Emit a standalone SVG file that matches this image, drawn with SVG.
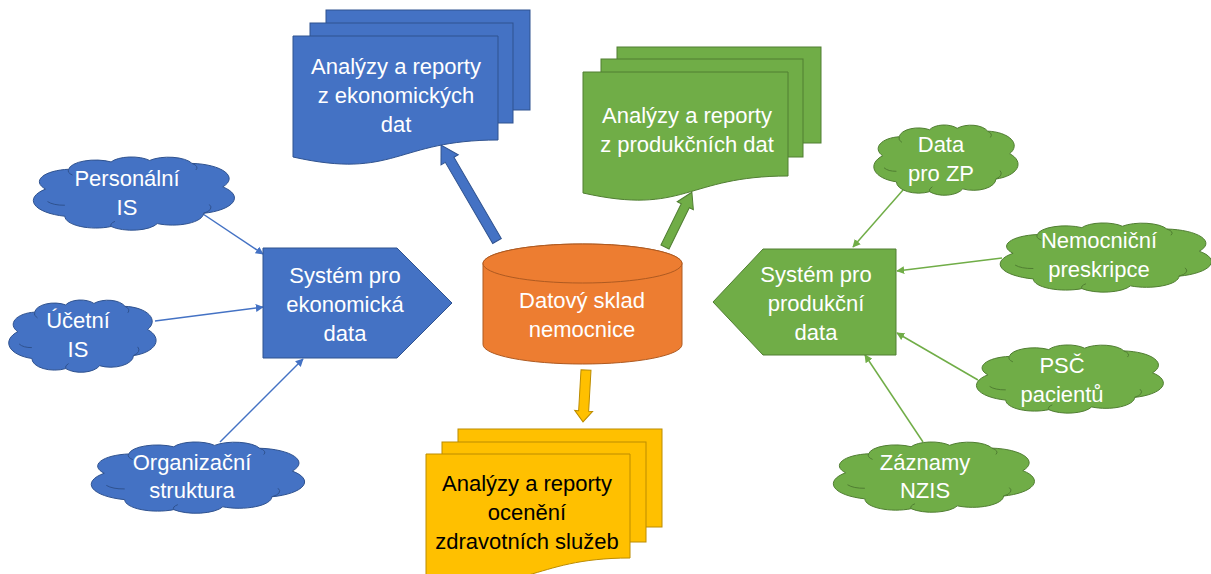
<svg xmlns="http://www.w3.org/2000/svg" xmlns:xlink="http://www.w3.org/1999/xlink" width="1211" height="574" viewBox="0 0 1211 574">
<style>
text{font-family:"Liberation Sans",Arial,sans-serif;font-size:22px;text-anchor:middle}
.w{fill:#ffffff}
.k{fill:#000000}
.blue{fill:#4472C4;stroke:#2F528F;stroke-width:1}
.green{fill:#70AD47;stroke:#507E32;stroke-width:1}
.yellow{fill:#FFC000;stroke:#BC8C00;stroke-width:1}
.orange{fill:#ED7D31;stroke:#AE5A21;stroke-width:1}
.cl{vector-effect:non-scaling-stroke}
.inner{fill:none;vector-effect:non-scaling-stroke}
.cb{stroke:#4472C4;stroke-width:1.5;fill:none;marker-end:url(#ab)}
.cg{stroke:#70AD47;stroke-width:1.5;fill:none;marker-end:url(#ag)}
</style>
<defs>
<marker id="ab" viewBox="0 0 10 10" refX="9" refY="5" markerWidth="8" markerHeight="8" markerUnits="userSpaceOnUse" orient="auto"><path d="M0,0 L10,5 L0,10 z" fill="#4472C4"/></marker>
<marker id="ag" viewBox="0 0 10 10" refX="9" refY="5" markerWidth="8" markerHeight="8" markerUnits="userSpaceOnUse" orient="auto"><path d="M0,0 L10,5 L0,10 z" fill="#70AD47"/></marker>
<path id="cloud" class="cl" d="M4,45 A17.1,17.1 0 0 1 16,18 A14,14 0 0 1 38,8 A11.7,11.7 0 0 1 58,6 A13,13 0 0 1 80,10 A20.8,20.8 0 0 1 96,42 A21.7,21.7 0 0 1 86,78 A16.1,16.1 0 0 1 62,92 A14.1,14.1 0 0 1 38,96 A16.1,16.1 0 0 1 14,82 A22.2,22.2 0 0 1 4,45 Z"/>
<path id="cloudIn" class="inner" d="M5,62 A10,10 0 0 0 14,67 M86,78 A10,10 0 0 0 89,66 M80,10 A8,8 0 0 1 82,19 M38,96 A8,8 0 0 1 40,89 M16,18 A9,9 0 0 0 18,26"/>
</defs>

<g id="connectors">
<line class="cb" x1="203" y1="214" x2="263" y2="254"/>
<line class="cb" x1="155" y1="321" x2="263" y2="307"/>
<line class="cb" x1="220" y1="442" x2="303" y2="359"/>
<line class="cg" x1="903" y1="190" x2="853" y2="247"/>
<line class="cg" x1="1002" y1="258" x2="897" y2="271"/>
<line class="cg" x1="978" y1="380" x2="897" y2="333"/>
<line class="cg" x1="923" y1="442" x2="865" y2="355"/>
<polygon class="blue" transform="translate(497,241) rotate(-120.26)" points="0,-5 94,-5 94,-10 111,0 94,10 94,5 0,5"/>
<polygon class="green" transform="translate(665,247) rotate(-63.85)" points="0,-4.5 46,-4.5 46,-9 61,0 46,9 46,4.5 0,4.5"/>
<polygon class="yellow" transform="translate(586,370) rotate(93.3)" points="0,-5 41,-5 41,-9 52,0 41,9 41,5 0,5"/>
</g>

<g id="doc-eko">
<rect class="blue" x="326" y="10" width="204" height="100"/>
<rect class="blue" x="310" y="23" width="203" height="100"/>
<path class="blue" d="M293,36 H498 V140 C395.5,140 395.5,180 293,157 Z"/>
<text class="w" x="396" y="74">Analýzy a reporty</text>
<text class="w" x="396" y="103">z ekonomických</text>
<text class="w" x="396" y="132">dat</text>
</g>

<g id="doc-prod">
<rect class="green" x="617" y="47" width="204" height="96"/>
<rect class="green" x="601" y="59" width="202" height="98"/>
<path class="green" d="M583,72 H788 V176 C685.5,176 685.5,216 583,193 Z"/>
<text class="w" x="687" y="123">Analýzy a reporty</text>
<text class="w" x="687" y="152">z produkčních dat</text>
</g>

<g id="doc-oceneni">
<rect class="yellow" x="458" y="429" width="204" height="98"/>
<rect class="yellow" x="442" y="442" width="204" height="100"/>
<path class="yellow" d="M426,454 H630 V558 C528,558 528,598 426,575 Z"/>
<text class="k" x="527" y="491">Analýzy a reporty</text>
<text class="k" x="527" y="520">ocenění</text>
<text class="k" x="527" y="549">zdravotních služeb</text>
</g>

<g id="sklad">
<path class="orange" d="M483,263.5 V344.5 A99.5,19.5 0 0 0 682,344.5 V263.5 A99.5,19.5 0 0 0 483,263.5 Z"/>
<ellipse class="orange" cx="582.5" cy="263.5" rx="99.5" ry="19.5"/>
<text class="w" x="582" y="308">Datový sklad</text>
<text class="w" x="582" y="337">nemocnice</text>
</g>

<g id="sys-eko">
<polygon class="blue" points="263,248 397,248 452,303 397,358 263,358"/>
<text class="w" x="345" y="283">Systém pro</text>
<text class="w" x="345" y="312">ekonomická</text>
<text class="w" x="345" y="341">data</text>
</g>

<g id="sys-prod">
<polygon class="green" points="713,302 763,249 896,249 896,355 763,355"/>
<text class="w" x="816" y="282">Systém pro</text>
<text class="w" x="816" y="311">produkční</text>
<text class="w" x="816" y="340">data</text>
</g>

<g id="personalni">
<g class="blue" transform="translate(37.9,156.05) scale(1.926,0.734)"><use xlink:href="#cloud"/><use xlink:href="#cloudIn"/></g>
<text class="w" x="127" y="186">Personální</text>
<text class="w" x="127" y="215">IS</text>
</g>

<g id="ucetni">
<g class="blue" transform="translate(12.1,299.1) scale(1.411,0.724)"><use xlink:href="#cloud"/><use xlink:href="#cloudIn"/></g>
<text class="w" x="78" y="328">Účetní</text>
<text class="w" x="78" y="357">IS</text>
</g>

<g id="organizacni">
<g class="blue" transform="translate(96.1,441.1) scale(2.043,0.714)"><use xlink:href="#cloud"/><use xlink:href="#cloudIn"/></g>
<text class="w" x="192" y="470">Organizační</text>
<text class="w" x="192" y="498">struktura</text>
</g>

<g id="data-zp">
<g class="green" transform="translate(877.1,124.1) scale(1.381,0.704)"><use xlink:href="#cloud"/><use xlink:href="#cloudIn"/></g>
<text class="w" x="941" y="152">Data</text>
<text class="w" x="941" y="181">pro ZP</text>
</g>

<g id="preskripce">
<g class="green" transform="translate(1005,222.1) scale(2.023,0.693)"><use xlink:href="#cloud"/><use xlink:href="#cloudIn"/></g>
<text class="w" x="1099" y="248">Nemocniční</text>
<text class="w" x="1099" y="277">preskripce</text>
</g>

<g id="psc">
<g class="green" transform="translate(980.7,344.1) scale(1.79,0.683)"><use xlink:href="#cloud"/><use xlink:href="#cloudIn"/></g>
<text class="w" x="1062" y="373">PSČ</text>
<text class="w" x="1062" y="402">pacientů</text>
</g>

<g id="nzis">
<g class="green" transform="translate(837.9,441.1) scale(1.926,0.704)"><use xlink:href="#cloud"/><use xlink:href="#cloudIn"/></g>
<text class="w" x="925" y="470">Záznamy</text>
<text class="w" x="925" y="498">NZIS</text>
</g>
</svg>
